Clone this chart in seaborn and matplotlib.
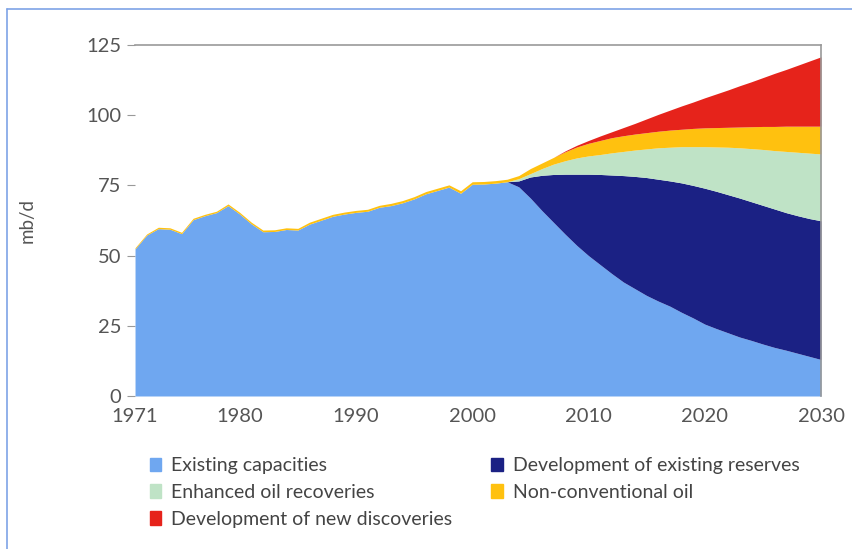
import numpy as np
import matplotlib
matplotlib.use("Agg")
import matplotlib.pyplot as plt
from matplotlib.lines import Line2D
import seaborn as sns

# years 1971-2003 are history, 2004-2030 are projections
years = np.arange(1971, 2031)

existing_hist = [52.4, 57.3, 59.6, 59.4, 57.8, 62.8, 64.2, 65.3, 67.8, 64.8, 61.3,
                 58.5, 58.6, 59.3, 59.1, 61.2, 62.6, 64.0, 64.8, 65.4, 65.8, 67.2,
                 67.8, 68.8, 70.2, 72.0, 73.2, 74.4, 72.2, 75.4, 75.5, 75.8, 76.3]
existing_proj = [74.5, 70.5, 66.0, 61.8, 57.6, 53.6, 50.0, 46.8, 43.6, 40.6, 38.2,
                 35.8, 33.8, 32.0, 29.8, 27.8, 25.6, 24.0, 22.5, 21.0, 19.8, 18.5,
                 17.3, 16.3, 15.2, 14.1, 13.0]
dev_existing_proj = [2.1, 7.5, 12.6, 17.1, 21.4, 25.4, 29.0, 32.1, 35.1, 37.9, 40.0,
                     42.0, 43.4, 44.6, 46.1, 47.2, 48.4, 48.9, 49.2, 49.5, 49.4, 49.4,
                     49.3, 49.0, 49.0, 49.1, 49.4]
eor_proj = [0.8, 1.2, 2.4, 3.7, 4.8, 5.8, 6.5, 7.1, 7.9, 8.6, 9.4, 10.2, 11.2, 12.0,
            12.9, 13.8, 14.8, 15.8, 16.9, 17.9, 18.9, 19.9, 20.8, 21.8, 22.6, 23.3, 23.8]
nonconv_hist = [0.4, 0.4, 0.5, 0.5, 0.5, 0.5, 0.5, 0.5, 0.6, 0.6, 0.6, 0.6, 0.6, 0.6,
                0.6, 0.7, 0.7, 0.7, 0.7, 0.7, 0.7, 0.7, 0.8, 0.8, 0.8, 0.8, 0.8, 0.8,
                0.9, 0.9, 0.9, 0.9, 0.9]
nonconv_proj = [1.1, 1.8, 2.0, 2.4, 3.2, 3.9, 4.5, 5.0, 5.4, 5.6, 5.7, 5.8, 5.9, 6.1,
                6.2, 6.5, 6.7, 6.9, 7.1, 7.4, 7.8, 8.2, 8.6, 9.0, 9.3, 9.6, 9.9]
new_disc_proj = [0.0, 0.0, 0.0, 0.0, 0.3, 0.6, 1.0, 1.6, 2.1, 2.9, 3.8, 4.9, 6.0, 7.1,
                 8.3, 9.4, 10.7, 12.0, 13.3, 14.7, 16.0, 17.4, 18.9, 20.2, 21.7, 23.2, 24.7]
no_hist = [0.0] * 33

labels = ["Existing capacities", "Development of existing reserves",
          "Enhanced oil recoveries", "Non-conventional oil",
          "Development of new discoveries"]
colors = ["#6fa7f0", "#1b2184", "#bfe3c6", "#ffc10f", "#e6231b"]

series = [
    existing_hist + existing_proj,
    no_hist + dev_existing_proj,
    no_hist + eor_proj,
    nonconv_hist + nonconv_proj,
    no_hist + new_disc_proj,
]

sns.set_style("white")
plt.rcParams["font.family"] = ["Lato", "DejaVu Sans"]

fig = plt.figure(figsize=(8.53, 5.49), dpi=100)
ax = fig.add_axes([0.1583, 0.2787, 0.8042, 0.6393])

polys = ax.stackplot(years, *series, colors=colors, linewidth=0)

ax.set_xlim(1971, 2030)
ax.set_ylim(0, 125)
ax.set_xticks([1971, 1980, 1990, 2000, 2010, 2020, 2030])
ax.set_yticks([0, 25, 50, 75, 100, 125])
ax.tick_params(axis="x", length=0, pad=9, labelsize=14.5, labelcolor="#555555")
ax.tick_params(axis="y", length=6, width=0.8, color="#999999", pad=4,
               labelsize=14.5, labelcolor="#555555", left=True)
ax.set_ylabel("mb/d", fontsize=13.5, color="#555555", labelpad=36)

for side in ["left", "bottom"]:
    ax.spines[side].set_visible(False)
for side in ["top", "right"]:
    ax.spines[side].set_color("#999999")
    ax.spines[side].set_linewidth(1.2)

# legend in two columns below the plot
order = [0, 2, 4, 1, 3]
handles = [plt.Rectangle((0, 0), 1, 1, color=colors[i]) for i in order]
fig.legend(handles, [labels[i] for i in order], ncol=2, frameon=False,
           loc="upper left", bbox_to_anchor=(0.155, 0.199), fontsize=14,
           labelcolor="#444444", handlelength=0.6, handleheight=0.7,
           handletextpad=0.5, columnspacing=2.0, labelspacing=0.5)

# thin blue frame on the left and top of the figure
fig.add_artist(Line2D([0.008, 0.008], [0, 0.983], color="#7ea3e6", lw=1.2))
fig.add_artist(Line2D([0.008, 1.0], [0.983, 0.983], color="#7ea3e6", lw=1.2))

fig.savefig("out.png", dpi=100)
